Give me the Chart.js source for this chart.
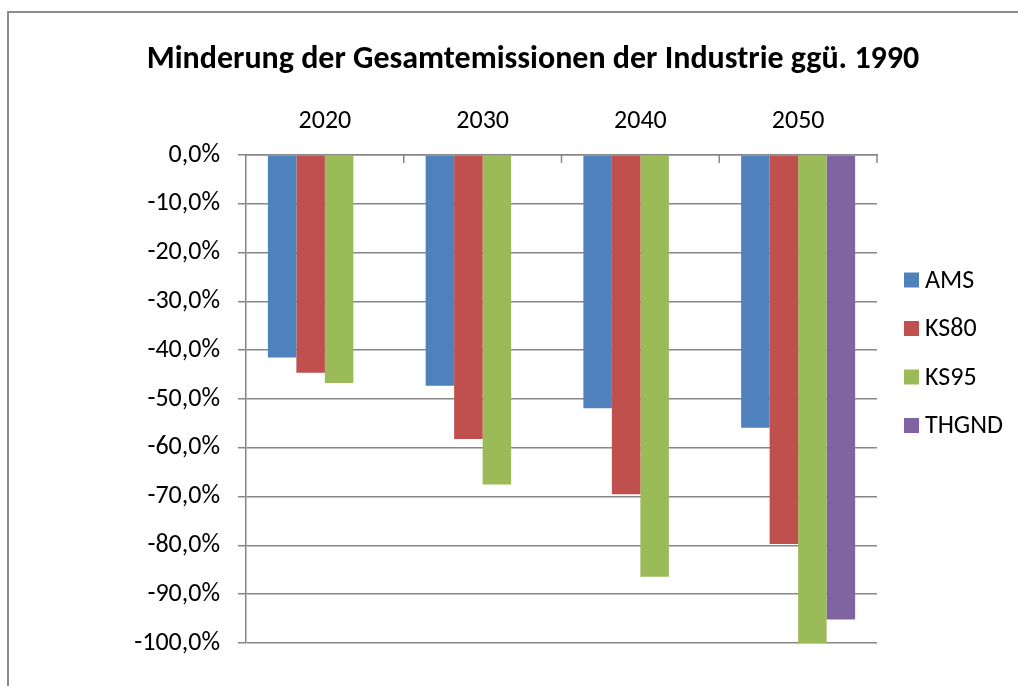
<!DOCTYPE html>
<html>
<head>
<meta charset="utf-8">
<script src="https://cdn.jsdelivr.net/npm/chart.js@4.4.1/dist/chart.umd.min.js"></script>
<style>
  html, body { margin: 0; padding: 0; background: #fff; }
  #wrap { position: relative; width: 1018px; height: 686px; overflow: hidden; }
  #frame { position: absolute; left: 7px; top: 11px; width: 2000px; height: 2000px;
           border-left: 2px solid #8c8c8c; border-top: 2px solid #8c8c8c; pointer-events: none; }
</style>
</head>
<body>
<div id="wrap">
  <canvas id="chart" width="1018" height="686"></canvas>
  <div id="frame"></div>
</div>
<script>
const years = ['2020', '2030', '2040', '2050'];
const ams   = [-41.5, -47.3, -51.9, -55.9];
const ks80  = [-44.6, -58.2, -69.5, -79.7];
const ks95  = [-46.7, -67.5, -86.4, -100.0];
const thgnd = [null, null, null, -95.2];

const FONT = 'Carlito, Lato, sans-serif';
const GRID = '#868686';

// small ticks pointing down from the top axis at category borders
const innerTicks = {
  id: 'innerTicks',
  afterDatasetsDraw(chart) {
    const xs = chart.scales.x, ctx = chart.ctx;
    const w = (xs.right - xs.left) / years.length;
    ctx.save();
    ctx.strokeStyle = GRID;
    ctx.lineWidth = 1.5;
    for (let i = 1; i <= years.length; i++) {
      const x = xs.left + i * w;
      ctx.beginPath();
      ctx.moveTo(x, chart.chartArea.top);
      ctx.lineTo(x, chart.chartArea.top + 8);
      ctx.stroke();
    }
    ctx.restore();
  }
};

// legend on the right like the excel one
const sideLegend = {
  id: 'sideLegend',
  afterDraw(chart) {
    const ctx = chart.ctx;
    ctx.save();
    ctx.font = '26px ' + FONT;
    ctx.textBaseline = 'middle';
    chart.data.datasets.forEach((ds, i) => {
      const cy = 280 + i * 48.5;
      ctx.fillStyle = ds.backgroundColor;
      ctx.fillRect(904, cy - 7.5, 15, 15);
      ctx.fillStyle = '#000';
      ctx.fillText(ds.label, 925, cy + 1);
    });
    ctx.restore();
  }
};

new Chart(document.getElementById('chart'), {
  type: 'bar',
  data: {
    labels: years,
    datasets: [
      { label: 'AMS',   data: ams,   backgroundColor: '#4f81bd' },
      { label: 'KS80',  data: ks80,  backgroundColor: '#c0504d' },
      { label: 'KS95',  data: ks95,  backgroundColor: '#9bbb59' },
      { label: 'THGND', data: thgnd, backgroundColor: '#8064a2' }
    ]
  },
  options: {
    responsive: false,
    animation: false,
    categoryPercentage: 0.7227,
    barPercentage: 1,
    layout: { padding: { left: 48, right: 0, top: 0, bottom: 43 } },
    plugins: {
      legend: { display: false },
      tooltip: { enabled: false },
      title: {
        display: true,
        text: 'Minderung der Gesamtemissionen der Industrie ggü. 1990',
        color: '#000',
        font: { family: FONT, size: 32, weight: 'bold', lineHeight: '38px' },
        padding: { top: 41, bottom: 10 }
      }
    },
    scales: {
      x: {
        position: 'top',
        grid: { display: true, drawOnChartArea: false, drawTicks: false },
        border: { display: true, color: GRID, width: 1.5 },
        ticks: { color: '#000', font: { family: FONT, size: 26 }, padding: 18 },
        afterFit(s) { s.height = 66; }
      },
      y: {
        min: -100,
        max: 0,
        ticks: {
          stepSize: 10,
          color: '#000',
          font: { family: FONT, size: 26 },
          padding: 18,
          callback: v => (v === 0 ? '0,0%' : v.toFixed(1).replace('.', ',') + '%')
        },
        grid: { color: GRID, lineWidth: 1.5, tickLength: 8 },
        border: { display: true, color: GRID, width: 1.5 },
        afterFit(s) { s.width = 198; }
      },
      // empty right box that leaves room for the legend
      yRoom: {
        position: 'right',
        grid: { display: false },
        border: { display: false },
        ticks: { display: false },
        afterFit(s) { s.width = 141; }
      }
    }
  },
  plugins: [innerTicks, sideLegend]
});
</script>
</body>
</html>
